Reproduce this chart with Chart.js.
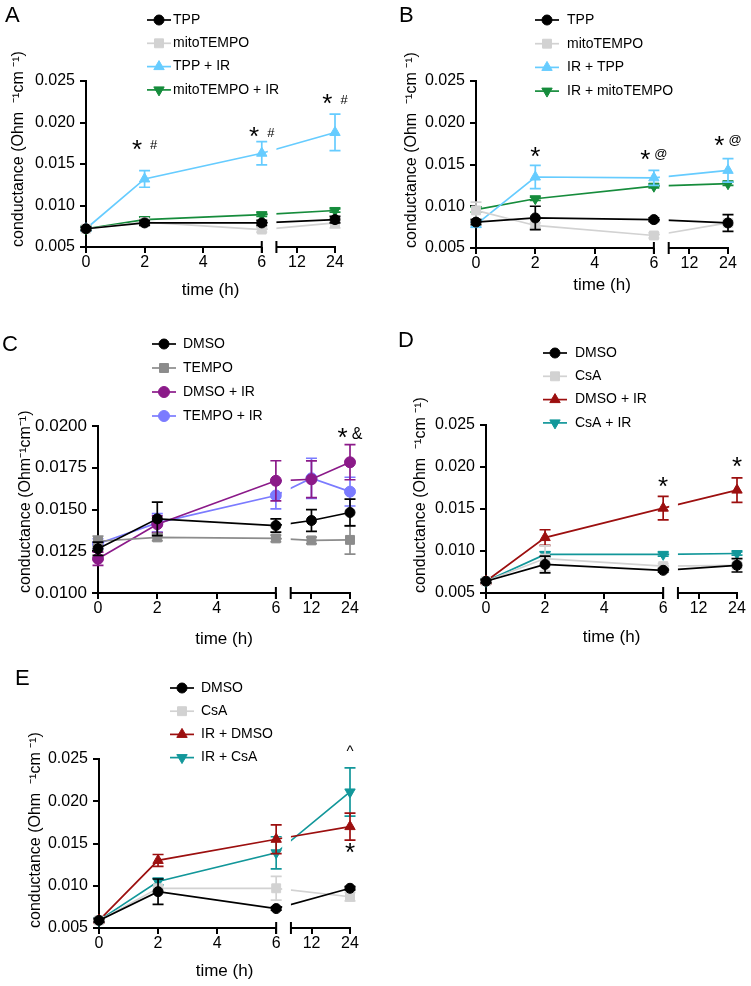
<!DOCTYPE html>
<html>
<head>
<meta charset="utf-8">
<title>Conductance over time</title>
<script src="https://cdn.jsdelivr.net/npm/chart.js@4.4.1/dist/chart.umd.min.js"></script>
<style>
  body { margin: 0; background: #fff; }
  #figure { position: relative; width: 751px; height: 986px; overflow: hidden; }
  #figure canvas { position: absolute; }
  .letter { position: absolute; font: 22px "Liberation Sans", Arial, sans-serif; line-height: 22px; color: #000; }
</style>
</head>
<body>
<div id="figure">
  <canvas id="chart-a" width="375" height="310" style="left:0;top:0"></canvas>
  <canvas id="chart-b" width="376" height="310" style="left:375px;top:0"></canvas>
  <canvas id="chart-c" width="375" height="345" style="left:0;top:310px"></canvas>
  <canvas id="chart-d" width="376" height="345" style="left:375px;top:310px"></canvas>
  <canvas id="chart-e" width="375" height="336" style="left:0;top:650px"></canvas>
  <div class="letter" style="left:5px;top:4px">A</div>
  <div class="letter" style="left:399px;top:4px">B</div>
  <div class="letter" style="left:2px;top:333px">C</div>
  <div class="letter" style="left:398px;top:329px">D</div>
  <div class="letter" style="left:15px;top:667px">E</div>
</div>
<script>
// --- Data (conductance, Ohm^-1 cm^-1) ---
const times = [0, 2, 6, 24];
const timesC = [0, 2, 6, 12, 24];
const xTickTimes = [0, 2, 4, 6, 12, 24];
const yTicks = [0.005, 0.010, 0.015, 0.020, 0.025];
const yTicksC = [0.0100, 0.0125, 0.0150, 0.0175, 0.0200];

// A
const aLabels = ['TPP', 'mitoTEMPO', 'TPP + IR', 'mitoTEMPO + IR'];
const aTPP = [0.0072, 0.0079, 0.0079, 0.0083];
const aTPPErr = [0.0002, 0.0003, 0.0003, 0.0004];
const aMito = [0.0072, 0.0080, 0.0071, 0.0079];
const aMitoErr = [0.0002, 0.0003, 0.0003, 0.0006];
const aTPPIR = [0.0072, 0.0132, 0.0163, 0.0188];
const aTPPIRErr = [0.0002, 0.0010, 0.0014, 0.0022];
const aMitoIR = [0.0072, 0.0083, 0.0089, 0.0094];
const aMitoIRErr = [0.0002, 0.0003, 0.0002, 0.0002];
const aNotes = [{ t: 2, v: 0.0173, text: '*  #' }, { t: 6, v: 0.0188, text: '*  #' }, { t: 24, v: 0.0228, text: '*  #' }];

// B
const bLabels = ['TPP', 'mitoTEMPO', 'IR + TPP', 'IR + mitoTEMPO'];
const bTPP = [0.0081, 0.0086, 0.0084, 0.0080];
const bTPPErr = [0.0003, 0.0014, 0.0002, 0.0010];
const bMito = [0.0095, 0.0077, 0.0065, 0.0080];
const bMitoErr = [0.0010, 0.0003, 0.0003, 0.0003];
const bIRTPP = [0.0078, 0.0135, 0.0134, 0.0143];
const bIRTPPErr = [0.0003, 0.0014, 0.0009, 0.0014];
const bIRMito = [0.0096, 0.0109, 0.0124, 0.0127];
const bIRMitoErr = [0.0003, 0.0002, 0.0002, 0.0002];
const bNotes = [{ t: 2, v: 0.01655, text: '*' }, { t: 6, v: 0.01615, text: '* @' }, { t: 24, v: 0.01786, text: '* @' }];

// C
const cLabels = ['DMSO', 'TEMPO', 'DMSO + IR', 'TEMPO + IR'];
const cDMSO = [0.01265, 0.01444, 0.01404, 0.01434, 0.01482];
const cDMSOErr = [0.0004, 0.0010, 0.0004, 0.00065, 0.0008];
const cTEMPO = [0.01310, 0.01333, 0.01327, 0.01315, 0.01318];
const cTEMPOErr = [0.0003, 0.0002, 0.0002, 0.0002, 0.00085];
const cDMSOIR = [0.01205, 0.01412, 0.01672, 0.01681, 0.01783];
const cDMSOIRErr = [0.0004, 0.0005, 0.0012, 0.0011, 0.00105];
const cTEMPOIR = [0.01295, 0.01420, 0.01584, 0.01687, 0.01607];
const cTEMPOIRErr = [0.0003, 0.00055, 0.0008, 0.0012, 0.00086];
const cNotes = [{ t: 24, v: 0.01958, text: '* &' }];

// D
const dLabels = ['DMSO', 'CsA', 'DMSO + IR', 'CsA + IR'];
const dDMSO = [0.0064, 0.0084, 0.0077, 0.0083];
const dDMSOErr = [0.0002, 0.0010, 0.0002, 0.0008];
const dCsA = [0.0064, 0.0091, 0.0082, 0.0083];
const dCsAErr = [0.0002, 0.0015, 0.0003, 0.0003];
const dDMSOIR = [0.0064, 0.0116, 0.0151, 0.01725];
const dDMSOIRErr = [0.0002, 0.00093, 0.0014, 0.00145];
const dCsAIR = [0.0064, 0.0096, 0.0096, 0.0097];
const dCsAIRErr = [0.0002, 0.0003, 0.0002, 0.0002];
const dNotes = [{ t: 6, v: 0.01824, text: '*' }, { t: 24, v: 0.02062, text: '*' }];

// E
const eLabels = ['DMSO', 'CsA', 'IR + DMSO', 'IR + CsA'];
const eDMSO = [0.0059, 0.0093, 0.0073, 0.0097];
const eDMSOErr = [0.0002, 0.0015, 0.0002, 0.0002];
const eCsA = [0.0059, 0.0097, 0.0097, 0.0087];
const eCsAErr = [0.0002, 0.0002, 0.0014, 0.0005];
const eIRDMSO = [0.0059, 0.0130, 0.0155, 0.0170];
const eIRDMSOErr = [0.0002, 0.0007, 0.0017, 0.0016];
const eIRCsA = [0.0059, 0.0105, 0.0139, 0.0211];
const eIRCsAErr = [0.0002, 0.0004, 0.0019, 0.00285];
const eNotes = [{ t: 24, v: 0.02634, text: '^' }, { t: 24, v: 0.01447, text: '*' }];

// --- Broken time axis: 0-6 h linear, then 12 h and 24 h after the break ---
const BREAK_START = 6.5;
const X_12 = 7.2;
const X_24 = 8.5;
function xPos(t) {
    if (t <= 6) return t;
    return X_12 + (t - 12) * (X_24 - X_12) / 12;
}

const FONT = '"Liberation Sans", Arial, sans-serif';
Chart.defaults.font.family = FONT;
Chart.defaults.color = '#000';

// --- Marker styles ---
const BLACK = { color: '#000000', shape: 'circle', radius: 5 };
const LIGHT_GREY = { color: '#d2d2d2', shape: 'rect', radius: 6.3 };
const GREY = { color: '#8c8c8c', shape: 'rect', radius: 6.3 };
const CYAN = { color: '#66ccff', shape: 'triangle', radius: 6 };
const GREEN = { color: '#168c3c', shape: 'triangle', radius: 6, rotation: 180 };
const PURPLE = { color: '#8b1a89', shape: 'circle', radius: 5.5 };
const VIOLET = { color: '#7b7bff', shape: 'circle', radius: 5.5 };
const DARK_RED = { color: '#9c0f0f', shape: 'triangle', radius: 6 };
const TEAL = { color: '#12979a', shape: 'triangle', radius: 6, rotation: 180 };

function makeDataset(label, ts, values, errors, style) {
    return {
        label,
        data: ts.map((t, i) => ({ x: xPos(t), y: values[i] })),
        errors,
        borderColor: style.color,
        backgroundColor: style.color,
        pointBackgroundColor: style.color,
        pointBorderColor: style.color,
        pointStyle: style.shape,
        pointRotation: style.rotation || 0,
        pointRadius: style.radius,
        pointBorderWidth: 1,
        borderWidth: 1.7,
        tension: 0,
        clip: false
    };
}

// --- Plugin: axis break, clipping at the break, error bars, legend, significance marks ---
const noteFonts = { '*': 26, '#': 13, '@': 13, '&': 16, '^': 15 };

function drawMarker(ctx, ds, x, y) {
    if (Chart.helpers && Chart.helpers.drawPoint) {
        Chart.helpers.drawPoint(ctx, { pointStyle: ds.pointStyle, rotation: ds.pointRotation, radius: ds.pointRadius, borderWidth: 1 }, x, y);
    } else {
        ctx.beginPath(); ctx.arc(x, y, ds.pointRadius, 0, Math.PI * 2); ctx.fill();
    }
}

const panelExtras = {
    id: 'panelExtras',
    beforeDatasetsDraw(chart) {
        const { ctx, chartArea: area, scales: { x } } = chart;
        const x6 = x.getPixelForValue(6), xb = x.getPixelForValue(BREAK_START), xEnd = x.getPixelForValue(X_24);
        ctx.save();
        ctx.strokeStyle = '#000';
        ctx.lineWidth = 2;
        ctx.beginPath();
        ctx.moveTo(area.left - 1, area.bottom); ctx.lineTo(x6, area.bottom);
        ctx.moveTo(xb, area.bottom); ctx.lineTo(xEnd + 1, area.bottom);
        ctx.moveTo(x6, area.bottom - 6); ctx.lineTo(x6, area.bottom + 6);
        ctx.moveTo(xb, area.bottom - 6); ctx.lineTo(xb, area.bottom + 6);
        ctx.stroke();
        ctx.restore();
        // series are only drawn on the two axis segments
        ctx.save();
        ctx.beginPath();
        ctx.rect(0, 0, x6 + 6, chart.height);
        ctx.rect(xb, 0, chart.width - xb, chart.height);
        ctx.clip();
    },
    beforeDatasetDraw(chart, args) {
        const ds = chart.data.datasets[args.index];
        if (!ds.errors) return;
        const { ctx, scales: { y } } = chart;
        ctx.save();
        ctx.strokeStyle = ds.borderColor;
        ctx.lineWidth = 1.7;
        args.meta.data.forEach((pt, i) => {
            const v = ds.data[i].y, e = ds.errors[i];
            const top = y.getPixelForValue(v + e), bot = y.getPixelForValue(v - e);
            ctx.beginPath();
            ctx.moveTo(pt.x, top); ctx.lineTo(pt.x, bot);
            ctx.moveTo(pt.x - 5.5, top); ctx.lineTo(pt.x + 5.5, top);
            ctx.moveTo(pt.x - 5.5, bot); ctx.lineTo(pt.x + 5.5, bot);
            ctx.stroke();
        });
        ctx.restore();
    },
    afterDatasetsDraw(chart) {
        chart.ctx.restore();
    },
    afterDraw(chart, args, opts) {
        const { ctx, chartArea: area, scales: { x, y } } = chart;
        const lg = opts.legend;
        ctx.save();
        chart.data.datasets.forEach((ds, i) => {
            const cx = area.left + lg.dx, cy = area.top + lg.dy + i * lg.gap;
            ctx.strokeStyle = ds.borderColor;
            ctx.fillStyle = ds.backgroundColor;
            ctx.lineWidth = 1.7;
            ctx.beginPath();
            ctx.moveTo(cx - 12, cy); ctx.lineTo(cx + 12, cy);
            ctx.stroke();
            ctx.lineWidth = 1;
            drawMarker(ctx, ds, cx, cy);
            ctx.fillStyle = '#000';
            ctx.font = '14px ' + FONT;
            ctx.textAlign = 'left';
            ctx.textBaseline = 'middle';
            ctx.fillText(ds.label, cx + lg.textDx, cy);
        });
        // significance marks, ink centred on the given value
        ctx.fillStyle = '#000';
        ctx.textBaseline = 'alphabetic';
        (opts.notes || []).forEach(n => {
            const cx = x.getPixelForValue(xPos(n.t)), cy = y.getPixelForValue(n.v);
            const parts = n.text.split(/( +)/).filter(p => p.length);
            const items = parts.map(p => {
                if (p.trim() === '') return { gap: 4 * p.length };
                ctx.font = (noteFonts[p] || 14) + 'px ' + FONT;
                const m = ctx.measureText(p);
                return { p, font: ctx.font, w: m.width, off: (m.actualBoundingBoxAscent - m.actualBoundingBoxDescent) / 2 };
            });
            const total = items.reduce((s, it) => s + (it.p ? it.w : it.gap), 0);
            let px = cx - total / 2;
            items.forEach(it => {
                if (!it.p) { px += it.gap; return; }
                ctx.font = it.font;
                ctx.textAlign = 'left';
                ctx.fillText(it.p, px, cy + it.off);
                px += it.w;
            });
        });
        ctx.restore();
    }
};

function makeChart(id, datasets, cfg) {
    return new Chart(document.getElementById(id), {
        type: 'line',
        data: { datasets },
        options: {
            responsive: false,
            animation: false,
            devicePixelRatio: 1,
            layout: { padding: cfg.padding },
            plugins: {
                legend: { display: false },
                tooltip: { enabled: false },
                panelExtras: { legend: cfg.legend, notes: cfg.notes }
            },
            scales: {
                x: {
                    type: 'linear',
                    min: 0,
                    max: X_24,
                    afterBuildTicks: s => { s.ticks = xTickTimes.map(t => ({ value: xPos(t) })); },
                    afterFit: s => { s.height = cfg.xHeight; },
                    border: { display: false },
                    grid: { drawOnChartArea: false, drawTicks: true, tickLength: 6, color: '#000', lineWidth: 2 },
                    ticks: {
                        autoSkip: false,
                        maxRotation: 0,
                        padding: 0,
                        font: { size: 16 },
                        callback: v => {
                            const t = xTickTimes.find(tt => Math.abs(xPos(tt) - v) < 1e-6);
                            return t === undefined ? '' : String(t);
                        }
                    },
                    title: { display: true, text: 'time (h)', font: { size: 17 }, padding: 0 }
                },
                y: {
                    min: cfg.yTicks[0],
                    max: cfg.yTicks[cfg.yTicks.length - 1],
                    afterBuildTicks: s => { s.ticks = cfg.yTicks.map(v => ({ value: v })); },
                    afterFit: s => { s.width = cfg.yWidth; },
                    border: { display: true, color: '#000', width: 2 },
                    grid: { drawOnChartArea: false, drawTicks: true, tickLength: 6, color: '#000', lineWidth: 2 },
                    ticks: { padding: 5, font: { size: cfg.yTickSize || 16 }, callback: v => v.toFixed(cfg.decimals) },
                    title: { display: true, text: cfg.yTitle, align: 'start', font: { size: 16 }, padding: 0 }
                }
            }
        },
        plugins: [panelExtras]
    });
}

makeChart('chart-a', [
    makeDataset(aLabels[0], times, aTPP, aTPPErr, BLACK),
    makeDataset(aLabels[1], times, aMito, aMitoErr, LIGHT_GREY),
    makeDataset(aLabels[2], times, aTPPIR, aTPPIRErr, CYAN),
    makeDataset(aLabels[3], times, aMitoIR, aMitoIRErr, GREEN)
], {
    padding: { left: 9, top: 81, right: 40, bottom: 9 }, yWidth: 77, xHeight: 54,
    yTicks, decimals: 3, yTitle: 'conductance (Ohm  ⁻¹cm ⁻¹)',
    legend: { dx: 73, dy: -61, gap: 23.3, textDx: 14 }, notes: aNotes
});

makeChart('chart-b', [
    makeDataset(bLabels[0], times, bTPP, bTPPErr, BLACK),
    makeDataset(bLabels[1], times, bMito, bMitoErr, LIGHT_GREY),
    makeDataset(bLabels[2], times, bIRTPP, bIRTPPErr, CYAN),
    makeDataset(bLabels[3], times, bIRMito, bIRMitoErr, GREEN)
], {
    padding: { left: 27, top: 81, right: 23, bottom: 14 }, yWidth: 74, xHeight: 48,
    yTicks, decimals: 3, yTitle: 'conductance (Ohm  ⁻¹cm ⁻¹)',
    legend: { dx: 71, dy: -61, gap: 23.7, textDx: 20 }, notes: bNotes
});

makeChart('chart-c', [
    makeDataset(cLabels[0], timesC, cDMSO, cDMSOErr, BLACK),
    makeDataset(cLabels[1], timesC, cTEMPO, cTEMPOErr, GREY),
    makeDataset(cLabels[2], timesC, cDMSOIR, cDMSOIRErr, PURPLE),
    makeDataset(cLabels[3], timesC, cTEMPOIR, cTEMPOIRErr, VIOLET)
], {
    padding: { left: 16, top: 116, right: 25, bottom: 5 }, yWidth: 82, xHeight: 57,
    yTicks: yTicksC, yTickSize: 17, decimals: 4, yTitle: 'conductance (Ohm⁻¹cm⁻¹)',
    legend: { dx: 66, dy: -82, gap: 24, textDx: 19 }, notes: cNotes
});

makeChart('chart-d', [
    makeDataset(dLabels[0], times, dDMSO, dDMSOErr, BLACK),
    makeDataset(dLabels[1], times, dCsA, dCsAErr, LIGHT_GREY),
    makeDataset(dLabels[2], times, dDMSOIR, dDMSOIRErr, DARK_RED),
    makeDataset(dLabels[3], times, dCsAIR, dCsAIRErr, TEAL)
], {
    padding: { left: 36, top: 115, right: 14, bottom: 7 }, yWidth: 75, xHeight: 55,
    yTicks, decimals: 3, yTitle: 'conductance (Ohm  ⁻¹cm ⁻¹)',
    legend: { dx: 69, dy: -72, gap: 23.3, textDx: 20 }, notes: dNotes
});

makeChart('chart-e', [
    makeDataset(eLabels[0], times, eDMSO, eDMSOErr, BLACK),
    makeDataset(eLabels[1], times, eCsA, eCsAErr, LIGHT_GREY),
    makeDataset(eLabels[2], times, eIRDMSO, eIRDMSOErr, DARK_RED),
    makeDataset(eLabels[3], times, eIRCsA, eIRCsAErr, TEAL)
], {
    padding: { left: 26, top: 109, right: 25, bottom: 4 }, yWidth: 73, xHeight: 54,
    yTicks, decimals: 3, yTitle: 'conductance (Ohm  ⁻¹cm ⁻¹)',
    legend: { dx: 83, dy: -71, gap: 23.2, textDx: 19 }, notes: eNotes
});
</script>
</body>
</html>
